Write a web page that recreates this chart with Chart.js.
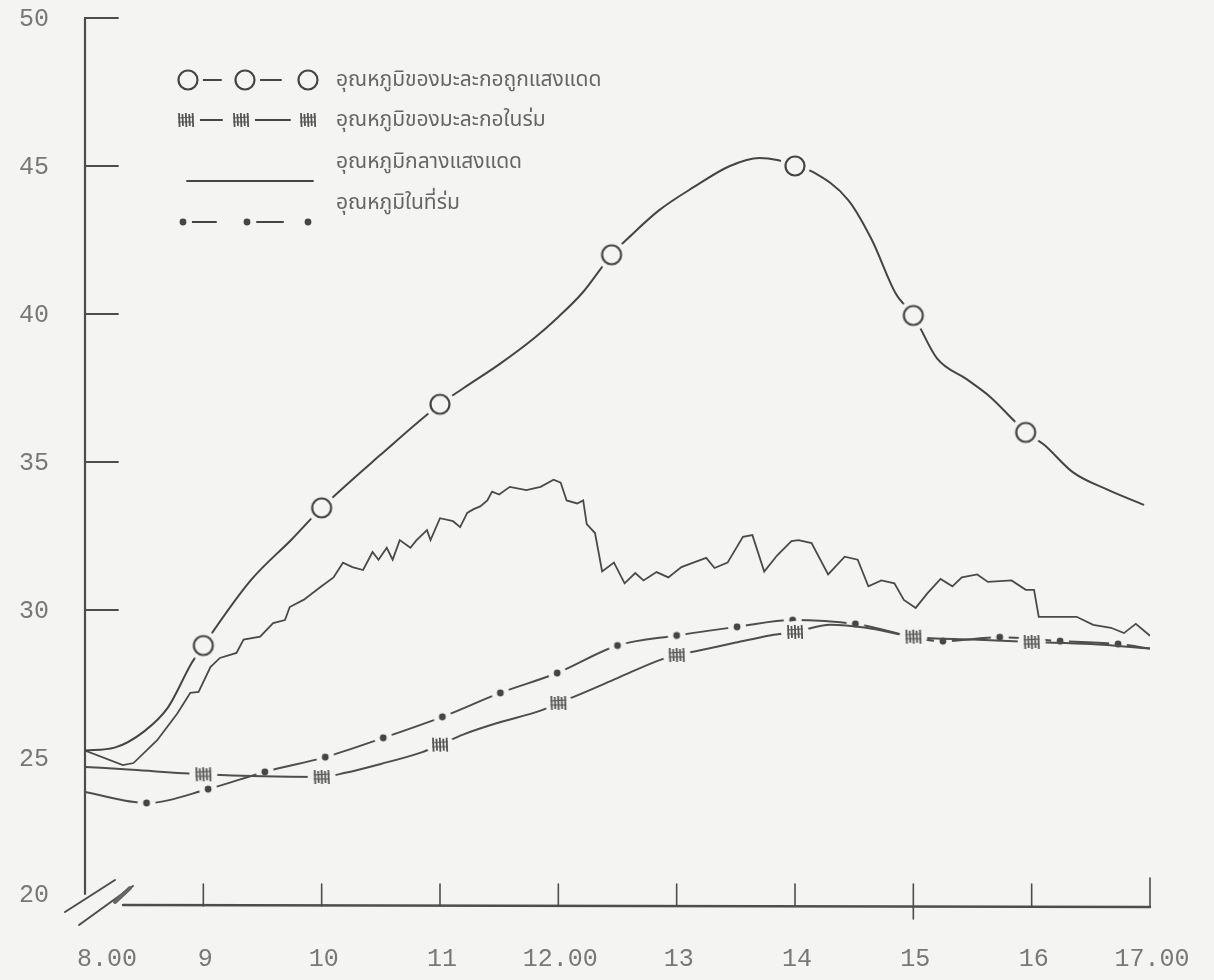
<!DOCTYPE html>
<html>
<head>
<meta charset="utf-8">
<script src="https://cdn.jsdelivr.net/npm/chart.js@4.4.1/dist/chart.umd.min.js"></script>
<style>
  html, body { margin: 0; padding: 0; background: #f4f4f2; }
  canvas { display: block; }
</style>
</head>
<body>
<canvas id="chart" width="1214" height="980"></canvas>
<script>
// Time axis (hours of the day) and temperature axis (°C)
const hourTicks  = [8, 9, 10, 11, 12, 13, 14, 15, 16, 17];
const hourLabels = ['8.00', '9', '10', '11', '12.00', '13', '14', '15', '16', '17.00'];
const tempTicks  = [20, 25, 30, 35, 40, 45, 50];

// Papaya exposed to the sun
const sunFruitHours = [8.0, 8.25, 8.5, 8.7, 8.9, 9.0, 9.4, 9.75, 10.0, 10.5, 11.0, 11.2, 11.5, 11.8, 12.0, 12.2, 12.45, 12.6, 12.85, 13.15, 13.45, 13.7, 13.85, 14.0, 14.15, 14.45, 14.65, 14.85, 15.0, 15.2, 15.45, 15.65, 15.85, 15.95, 16.1, 16.35, 16.65, 16.95];
const sunFruitTemp  = [25.25, 25.35, 25.9, 26.7, 28.2, 28.8, 31.0, 32.4, 33.45, 35.25, 36.95, 37.5, 38.3, 39.2, 39.9, 40.7, 42.0, 42.6, 43.5, 44.3, 45.0, 45.27, 45.2, 45.0, 44.8, 43.85, 42.5, 40.7, 39.95, 38.5, 37.8, 37.2, 36.4, 36.0, 35.6, 34.65, 34.05, 33.55];
const sunFruitMarks = [9.0, 10.0, 11.0, 12.45, 14.0, 15.0, 15.95];

// Papaya in the shade
const shadeFruitHours = [8.0, 8.4, 9.0, 9.5, 10.0, 10.2, 10.5, 10.85, 11.0, 11.2, 11.5, 11.85, 12.0, 12.15, 12.5, 12.85, 13.0, 13.15, 13.5, 13.8, 14.0, 14.3, 14.6, 15.0, 15.5, 16.0, 16.5, 17.0];
const shadeFruitTemp  = [24.7, 24.6, 24.45, 24.38, 24.36, 24.5, 24.8, 25.2, 25.45, 25.8, 26.2, 26.6, 26.86, 27.1, 27.7, 28.3, 28.48, 28.6, 28.9, 29.15, 29.26, 29.5, 29.4, 29.1, 29.0, 28.92, 28.85, 28.7];
const shadeFruitMarks = [9.0, 10.0, 11.0, 12.0, 13.0, 14.0, 15.0, 16.0];

// Air temperature in the open sun (continuous recorder trace)
const sunAirHours = [8.0, 8.32, 8.41, 8.61, 8.78, 8.89, 8.96, 9.06, 9.14, 9.28, 9.34, 9.48, 9.59, 9.69, 9.73, 9.85, 9.99, 10.1, 10.18, 10.26, 10.35, 10.43, 10.48, 10.55, 10.6, 10.66, 10.75, 10.8, 10.89, 10.92, 11.0, 11.11, 11.17, 11.23, 11.28, 11.34, 11.4, 11.44, 11.5, 11.59, 11.73, 11.85, 11.96, 12.02, 12.07, 12.16, 12.21, 12.24, 12.31, 12.37, 12.47, 12.56, 12.65, 12.72, 12.83, 12.93, 13.04, 13.14, 13.25, 13.32, 13.43, 13.56, 13.64, 13.74, 13.85, 13.97, 14.03, 14.14, 14.28, 14.42, 14.53, 14.62, 14.73, 14.84, 14.92, 15.02, 15.12, 15.23, 15.33, 15.41, 15.54, 15.63, 15.83, 15.95, 16.02, 16.06, 16.38, 16.52, 16.67, 16.78, 16.88, 17.0];
const sunAirTemp  = [25.25, 24.76, 24.83, 25.6, 26.5, 27.2, 27.23, 28.07, 28.38, 28.55, 29.0, 29.1, 29.56, 29.66, 30.1, 30.35, 30.78, 31.1, 31.6, 31.45, 31.35, 31.96, 31.7, 32.1, 31.7, 32.36, 32.1, 32.35, 32.7, 32.36, 33.1, 33.0, 32.8, 33.28, 33.4, 33.5, 33.7, 34.0, 33.9, 34.16, 34.05, 34.16, 34.4, 34.3, 33.7, 33.6, 33.7, 32.9, 32.6, 31.3, 31.6, 30.9, 31.25, 31.0, 31.28, 31.1, 31.45, 31.6, 31.76, 31.42, 31.6, 32.47, 32.53, 31.3, 31.85, 32.33, 32.36, 32.26, 31.2, 31.8, 31.7, 30.8, 31.0, 30.9, 30.34, 30.07, 30.57, 31.05, 30.8, 31.1, 31.2, 30.95, 31.0, 30.68, 30.68, 29.77, 29.77, 29.5, 29.4, 29.22, 29.53, 29.13];

// Air temperature in the shade
const shadeAirHours = [8.0, 8.52, 9.04, 9.52, 10.03, 10.52, 11.02, 11.51, 11.99, 12.5, 13.0, 13.51, 13.98, 14.51, 15.25, 15.73, 16.24, 16.73, 17.0];
const shadeAirTemp  = [23.85, 23.48, 23.95, 24.53, 25.03, 25.68, 26.39, 27.2, 27.87, 28.8, 29.14, 29.43, 29.66, 29.53, 28.95, 29.08, 28.95, 28.85, 28.7];
const shadeAirMarks = [8.52, 9.04, 9.52, 10.03, 10.52, 11.02, 11.51, 11.99, 12.5, 13.0, 13.51, 13.98, 14.51, 15.25, 15.73, 16.24, 16.73];

const seriesNames = [
  'อุณหภูมิของมะละกอถูกแสงแดด',
  'อุณหภูมิของมะละกอในร่ม',
  'อุณหภูมิกลางแสงแดด',
  'อุณหภูมิในที่ร่ม'
];

const paper = '#f4f4f2';
const ink = '#454545';
const labelInk = '#787878';
const digitFont = '25px "Liberation Mono", "DejaVu Sans Mono", monospace';
const thaiFont = '21px "Tlwg Typewriter", "TlwgTypewriter", "Tlwg Mono", "Noto Sans Thai", "Noto Sans Thai UI", "Noto Sans", sans-serif';

function makeCanvas(w, h) {
  const c = document.createElement('canvas');
  c.width = w; c.height = h;
  return c;
}

// Marker glyphs, each with a paper-coloured halo that breaks the line around it
const ringMark = (() => {
  const c = makeCanvas(34, 34), g = c.getContext('2d');
  g.fillStyle = paper;
  g.beginPath(); g.arc(17, 17, 15, 0, Math.PI * 2); g.fill();
  g.strokeStyle = ink; g.lineWidth = 2.2;
  g.beginPath(); g.arc(17, 17, 9.5, 0, Math.PI * 2); g.stroke();
  return c;
})();

const hashMark = (() => {
  const c = makeCanvas(30, 24), g = c.getContext('2d');
  g.fillStyle = paper;
  g.beginPath(); g.ellipse(15, 12, 14, 11, 0, 0, Math.PI * 2); g.fill();
  g.strokeStyle = '#555'; g.lineWidth = 1.8;
  for (let i = 0; i < 5; i++) {
    const x = 8 + i * 3.4;
    g.beginPath(); g.moveTo(x, 5 + (i % 2)); g.lineTo(x + 0.6, 19 - (i % 2)); g.stroke();
  }
  g.lineWidth = 1.2;
  g.beginPath();
  g.moveTo(7, 10); g.lineTo(23, 9);
  g.moveTo(7, 14); g.lineTo(23, 14);
  g.stroke();
  return c;
})();

const dotMark = (() => {
  const c = makeCanvas(20, 20), g = c.getContext('2d');
  g.fillStyle = paper;
  g.beginPath(); g.arc(10, 10, 9, 0, Math.PI * 2); g.fill();
  g.fillStyle = ink;
  g.beginPath(); g.arc(10, 10, 3.4, 0, Math.PI * 2); g.fill();
  return c;
})();

function toPoints(hours, temps) {
  return hours.map((h, i) => ({ x: h, y: temps[i] }));
}

function markRadius(marks) {
  return ctx => (ctx.raw && marks.includes(ctx.raw.x)) ? 6 : 0;
}

const paperPlugin = {
  id: 'paper',
  beforeDraw(chart) {
    const g = chart.ctx;
    g.save();
    g.fillStyle = paper;
    g.fillRect(0, 0, chart.width, chart.height);
    g.restore();
  }
};

// Hand-ruled axes: inward ticks, a broken origin and typewritten labels
const axesPlugin = {
  id: 'ruledAxes',
  beforeDatasetsDraw(chart) {
    const g = chart.ctx;
    const xs = chart.scales.x, ys = chart.scales.y;
    const x0 = xs.getPixelForValue(hourTicks[0]);
    const x1 = xs.getPixelForValue(hourTicks[hourTicks.length - 1]);
    const yBase = ys.getPixelForValue(tempTicks[0]);
    const yTop = ys.getPixelForValue(tempTicks[tempTicks.length - 1]);

    g.save();
    g.strokeStyle = '#4d4d4d';
    g.lineCap = 'round';

    // vertical axis
    g.lineWidth = 2.2;
    g.beginPath();
    g.moveTo(x0, yTop);
    g.lineTo(x0, yBase - 12);
    g.stroke();

    // ticks on the vertical axis
    g.lineWidth = 1.8;
    tempTicks.filter(v => v >= 30).forEach(v => {
      const y = ys.getPixelForValue(v);
      g.beginPath(); g.moveTo(x0, y); g.lineTo(x0 + 33, y); g.stroke();
    });

    // horizontal axis
    g.lineWidth = 2.4;
    g.beginPath();
    g.moveTo(x0 + 38, yBase - 1);
    g.lineTo(x1, yBase + 1);
    g.stroke();

    // ticks on the horizontal axis
    g.lineWidth = 1.6;
    hourTicks.slice(1).forEach((h, i, arr) => {
      const x = xs.getPixelForValue(h);
      const last = i === arr.length - 1;
      const top = last ? yBase - 28 : yBase - 22;
      const bottom = (h === 15) ? yBase + 13 : yBase;
      g.beginPath(); g.moveTo(x, top); g.lineTo(x, bottom); g.stroke();
    });

    // axis break marks at the origin
    g.lineWidth = 2;
    g.beginPath();
    g.moveTo(x0 - 20, yBase + 6); g.lineTo(x0 + 30, yBase - 26);
    g.moveTo(x0 - 6, yBase + 19); g.lineTo(x0 + 48, yBase - 20);
    g.stroke();
    g.lineWidth = 4;
    g.strokeStyle = '#666';
    g.beginPath();
    g.moveTo(x0 + 30, yBase - 4); g.lineTo(x0 + 45, yBase - 18);
    g.stroke();

    // labels
    g.fillStyle = labelInk;
    g.font = digitFont;
    g.textBaseline = 'middle';
    g.textAlign = 'center';
    tempTicks.forEach(v => {
      const y = ys.getPixelForValue(v);
      g.fillText(String(v), 34, v === tempTicks[0] ? y - 11 : y + 1);
    });
    hourTicks.forEach((h, i) => {
      const x = xs.getPixelForValue(h);
      if (i === 0) {
        g.textAlign = 'left';
        g.fillText(hourLabels[i], x - 8, yBase + 53);
        g.textAlign = 'center';
      } else {
        g.fillText(hourLabels[i], x + 2, yBase + 53);
      }
    });
    g.restore();
  }
};

// Key in the upper left, with the same glyphs as the plotted series
const keyPlugin = {
  id: 'key',
  afterDatasetsDraw(chart) {
    const g = chart.ctx;
    const names = chart.data.datasets.map(d => d.label);
    const textX = 336;
    g.save();
    g.strokeStyle = ink;
    g.lineWidth = 2;
    g.lineCap = 'round';

    const seg = (xa, xb, y) => { g.beginPath(); g.moveTo(xa, y); g.lineTo(xb, y); g.stroke(); };
    const put = (img, x, y) => g.drawImage(img, x - img.width / 2, y - img.height / 2);

    // row 1: ring — ring — ring
    let y = 80;
    seg(200, 221, y); seg(258, 281, y);
    put(ringMark, 188, y); put(ringMark, 245, y); put(ringMark, 308, y);

    // row 2: hatch — hatch — hatch
    y = 120;
    seg(199, 222, y); seg(252, 290, y);
    put(hashMark, 186, y); put(hashMark, 241, y); put(hashMark, 308, y);

    // row 3: plain line
    y = 181;
    g.lineWidth = 1.8;
    seg(187, 313, y);

    // row 4: dot — dot — dot
    y = 222;
    g.lineWidth = 2;
    seg(190, 216, y); seg(257, 283, y);
    put(dotMark, 183, y); put(dotMark, 247, y); put(dotMark, 308, y);

    g.fillStyle = '#666';
    g.font = thaiFont;
    g.textAlign = 'left';
    g.textBaseline = 'alphabetic';
    [86, 126, 168, 209].forEach((by, i) => g.fillText(names[i], textX, by));
    g.restore();
  }
};

new Chart(document.getElementById('chart'), {
  type: 'line',
  data: {
    datasets: [
      {
        label: seriesNames[0],
        data: toPoints(sunFruitHours, sunFruitTemp),
        borderColor: ink,
        borderWidth: 2,
        cubicInterpolationMode: 'monotone',
        pointStyle: ringMark,
        pointRadius: markRadius(sunFruitMarks)
      },
      {
        label: seriesNames[1],
        data: toPoints(shadeFruitHours, shadeFruitTemp),
        borderColor: '#4e4e4e',
        borderWidth: 2,
        cubicInterpolationMode: 'monotone',
        pointStyle: hashMark,
        pointRadius: markRadius(shadeFruitMarks)
      },
      {
        label: seriesNames[2],
        data: toPoints(sunAirHours, sunAirTemp),
        borderColor: '#4a4a4a',
        borderWidth: 1.8,
        tension: 0,
        pointRadius: 0
      },
      {
        label: seriesNames[3],
        data: toPoints(shadeAirHours, shadeAirTemp),
        borderColor: '#4e4e4e',
        borderWidth: 2,
        cubicInterpolationMode: 'monotone',
        pointStyle: dotMark,
        pointRadius: markRadius(shadeAirMarks)
      }
    ]
  },
  options: {
    responsive: false,
    animation: false,
    events: [],
    layout: { padding: { left: 85, right: 64, top: 18, bottom: 74 } },
    plugins: { legend: { display: false }, tooltip: { enabled: false } },
    scales: {
      x: { type: 'linear', min: hourTicks[0], max: hourTicks[hourTicks.length - 1], display: false },
      y: { type: 'linear', min: tempTicks[0], max: tempTicks[tempTicks.length - 1], display: false }
    }
  },
  plugins: [paperPlugin, axesPlugin, keyPlugin]
});
</script>
</body>
</html>
